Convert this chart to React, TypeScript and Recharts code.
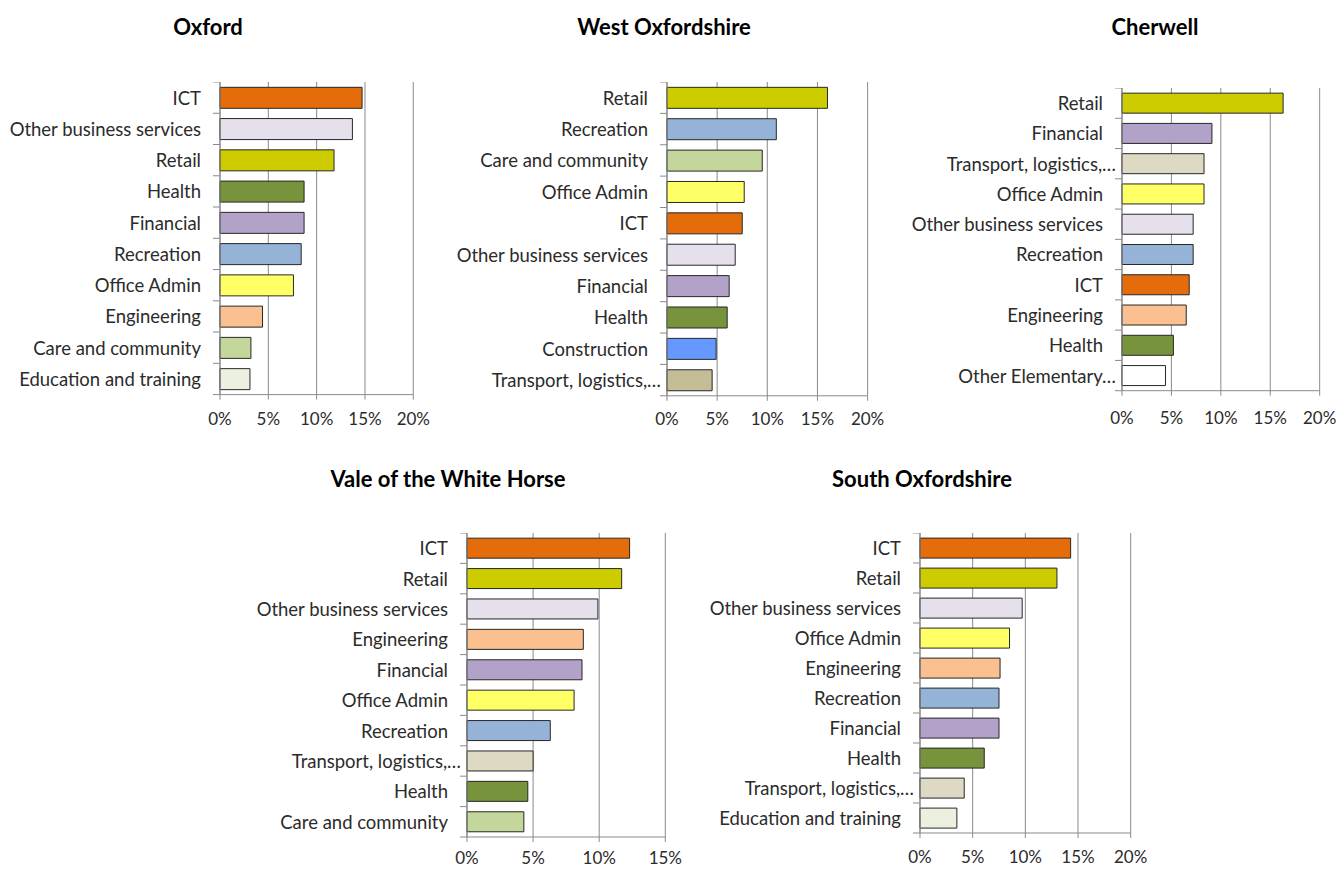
import React from 'react';
import { BarChart, Bar, XAxis, YAxis, CartesianGrid, Cell } from 'recharts';

// Share of job postings by occupation group, per district (%)
const oxfordCategories = [
  'ICT',
  'Other business services',
  'Retail',
  'Health',
  'Financial',
  'Recreation',
  'Office Admin',
  'Engineering',
  'Care and community',
  'Education and training',
];
const oxfordShares = [14.7, 13.7, 11.8, 8.7, 8.7, 8.4, 7.6, 4.4, 3.2, 3.1];

const westCategories = [
  'Retail',
  'Recreation',
  'Care and community',
  'Office Admin',
  'ICT',
  'Other business services',
  'Financial',
  'Health',
  'Construction',
  'Transport, logistics,…',
];
const westShares = [16.0, 10.9, 9.5, 7.7, 7.5, 6.8, 6.2, 6.0, 4.9, 4.5];

const cherwellCategories = [
  'Retail',
  'Financial',
  'Transport, logistics,…',
  'Office Admin',
  'Other business services',
  'Recreation',
  'ICT',
  'Engineering',
  'Health',
  'Other Elementary…',
];
const cherwellShares = [16.3, 9.1, 8.3, 8.3, 7.2, 7.2, 6.8, 6.5, 5.2, 4.4];

const valeCategories = [
  'ICT',
  'Retail',
  'Other business services',
  'Engineering',
  'Financial',
  'Office Admin',
  'Recreation',
  'Transport, logistics,…',
  'Health',
  'Care and community',
];
const valeShares = [12.3, 11.7, 9.9, 8.8, 8.7, 8.1, 6.3, 5.0, 4.6, 4.3];

const southCategories = [
  'ICT',
  'Retail',
  'Other business services',
  'Office Admin',
  'Engineering',
  'Recreation',
  'Financial',
  'Health',
  'Transport, logistics,…',
  'Education and training',
];
const southShares = [14.3, 13.0, 9.7, 8.5, 7.6, 7.5, 7.5, 6.1, 4.2, 3.5];

const ticksTo20 = [0, 5, 10, 15, 20];
const ticksTo15 = [0, 5, 10, 15];

// Fill colour for each occupation group
const groupColours: Record<string, string> = {
  ICT: '#E46C0A',
  'Other business services': '#E6E0EC',
  Retail: '#CCCC00',
  Health: '#77933C',
  Financial: '#B3A2C7',
  Recreation: '#95B3D7',
  'Office Admin': '#FFFF66',
  Engineering: '#FAC090',
  'Care and community': '#C3D69B',
  'Education and training': '#EBF1DE',
  Construction: '#6699FF',
  'Transport, logistics,…': '#DDD9C3',
  'Other Elementary…': '#FFFFFF',
};

const GRID = '#8a8a8a';
const TEXT = '#2b2b2b';
const FONT = 'Lato, "Open Sans", sans-serif';
const LABEL_SIZE = 18.5;
const TICK_SIZE = 17;

type Rect = { left: number; top: number; right: number; bottom: number };

type PanelProps = {
  title: string;
  categories: string[];
  shares: number[];
  max: number;
  ticks: number[];
  plot: Rect;
  titleAt: { x: number; y: number };
  tickLabelDy: number;
  overrides?: Record<string, string>;
};

function Panel({ title, categories, shares, max, ticks, plot, titleAt, tickLabelDy, overrides = {} }: PanelProps) {
  const data = categories.map((name, i) => ({ name, value: shares[i] }));
  const Y_W = 230;
  const X_H = tickLabelDy + 10;
  const PAD_R = 30;
  const plotW = plot.right - plot.left;
  const plotH = plot.bottom - plot.top;
  const band = plotH / categories.length;

  const renderYTick = (props: any) => {
    const { y, payload } = props;
    const idx = typeof props.index === 'number' ? props.index : payload.index;
    const label: string = payload.value;
    const truncated = label.endsWith('…');
    return (
      <g>
        <text
          x={Y_W - (truncated ? 6 : 19)}
          y={y}
          textAnchor="end"
          dominantBaseline="central"
          fontSize={LABEL_SIZE}
          fontFamily={FONT}
          fill={TEXT}
        >
          {label}
        </text>
        <line x1={Y_W - 7} x2={Y_W} y1={y + band / 2} y2={y + band / 2} stroke={GRID} strokeWidth={1} />
        {idx === 0 && (
          <line x1={Y_W - 7} x2={Y_W} y1={y - band / 2} y2={y - band / 2} stroke={GRID} strokeWidth={1} />
        )}
      </g>
    );
  };

  const renderXTick = (props: any) => {
    const { x, payload } = props;
    return (
      <text
        x={x}
        y={plotH + tickLabelDy}
        textAnchor="middle"
        dominantBaseline="central"
        fontSize={TICK_SIZE}
        fontFamily={FONT}
        fill={TEXT}
      >
        {`${payload.value}%`}
      </text>
    );
  };

  return (
    <>
      <div
        style={{
          position: 'absolute',
          left: titleAt.x - 200,
          top: titleAt.y - 14,
          width: 400,
          height: 28,
          lineHeight: '28px',
          textAlign: 'center',
          fontFamily: FONT,
          fontWeight: 700,
          fontSize: 22,
          color: '#000',
        }}
      >
        {title}
      </div>
      <div style={{ position: 'absolute', left: plot.left - Y_W, top: plot.top }}>
        <BarChart
          width={Y_W + plotW + PAD_R}
          height={plotH + X_H}
          data={data}
          layout="vertical"
          margin={{ top: 0, right: PAD_R, bottom: 0, left: 0 }}
          barCategoryGap="17%"
        >
          <CartesianGrid horizontal={false} stroke={GRID} strokeWidth={1} />
          <XAxis
            type="number"
            domain={[0, max]}
            ticks={ticks}
            height={X_H}
            axisLine={{ stroke: GRID }}
            tickLine={{ stroke: GRID }}
            tickSize={5}
            tick={renderXTick}
            interval={0}
          />
          <YAxis
            type="category"
            dataKey="name"
            width={Y_W}
            axisLine={{ stroke: GRID }}
            tickLine={false}
            tick={renderYTick}
            interval={0}
          />
          <Bar dataKey="value" stroke="#262626" strokeWidth={1} isAnimationActive={false}>
            {data.map((d) => (
              <Cell key={d.name} fill={overrides[d.name] ?? groupColours[d.name]} />
            ))}
          </Bar>
        </BarChart>
      </div>
    </>
  );
}

export default function App() {
  return (
    <div
      style={{
        position: 'absolute',
        left: 0,
        top: 0,
        width: 1341,
        height: 869,
        background: '#ffffff',
        overflow: 'hidden',
      }}
    >
      <Panel
        title="Oxford"
        categories={oxfordCategories}
        shares={oxfordShares}
        max={20}
        ticks={ticksTo20}
        plot={{ left: 220, top: 81.7, right: 413.3, bottom: 394.3 }}
        titleAt={{ x: 208, y: 27 }}
        tickLabelDy={24}
      />
      <Panel
        title="West Oxfordshire"
        categories={westCategories}
        shares={westShares}
        max={20}
        ticks={ticksTo20}
        plot={{ left: 666.7, top: 81.7, right: 867.3, bottom: 395.5 }}
        titleAt={{ x: 664, y: 27 }}
        tickLabelDy={22.5}
        overrides={{ 'Transport, logistics,…': '#C4BD97' }}
      />
      <Panel
        title="Cherwell"
        categories={cherwellCategories}
        shares={cherwellShares}
        max={20}
        ticks={ticksTo20}
        plot={{ left: 1122.3, top: 88.3, right: 1320, bottom: 391 }}
        titleAt={{ x: 1155, y: 27 }}
        tickLabelDy={27}
      />
      <Panel
        title="Vale of the White Horse"
        categories={valeCategories}
        shares={valeShares}
        max={15}
        ticks={ticksTo15}
        plot={{ left: 467, top: 533.3, right: 665.3, bottom: 837.3 }}
        titleAt={{ x: 448, y: 479 }}
        tickLabelDy={21}
      />
      <Panel
        title="South Oxfordshire"
        categories={southCategories}
        shares={southShares}
        max={20}
        ticks={ticksTo20}
        plot={{ left: 920, top: 533.3, right: 1130.7, bottom: 833.3 }}
        titleAt={{ x: 922, y: 479 }}
        tickLabelDy={24}
      />
    </div>
  );
}
